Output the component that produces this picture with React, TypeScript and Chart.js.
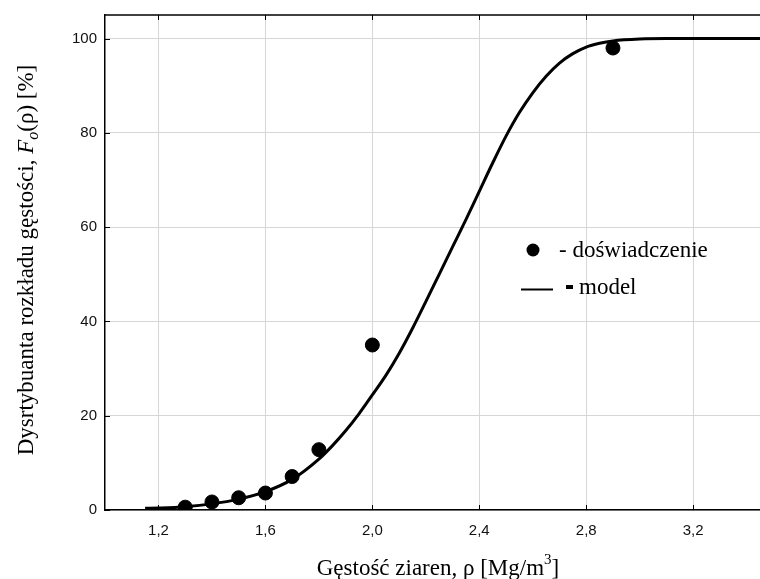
import React, { useEffect, useRef } from "react";
import { Chart, registerables } from "chart.js";

Chart.register(...registerables);

// Experimental points (density, cumulative %)
const expDensity = [1.3, 1.4, 1.5, 1.6, 1.7, 1.8, 2.0, 2.9];
const expCdf = [0.6, 1.7, 2.6, 3.6, 7.1, 12.8, 35.0, 98.0];

// Model curve
const modelDensity = [1.15, 1.2, 1.3, 1.4, 1.5, 1.6, 1.7, 1.8, 1.85, 1.9, 1.95, 2.0, 2.05, 2.1, 2.15, 2.2, 2.25, 2.3, 2.35, 2.4, 2.45, 2.5, 2.55, 2.6, 2.65, 2.7, 2.75, 2.8, 2.85, 2.9, 3.0, 3.1, 3.45];
const modelCdf = [0.35, 0.42, 0.7, 1.3, 2.3, 3.9, 6.5, 10.8, 13.6, 16.8, 20.4, 24.4, 28.5, 33.2, 38.5, 44.2, 50.0, 55.8, 61.6, 67.6, 73.6, 79.3, 84.3, 88.5, 92.0, 94.8, 96.8, 98.2, 99.0, 99.5, 99.9, 100, 100];

const xTickValues = [1.2, 1.6, 2.0, 2.4, 2.8, 3.2];
const yTickValues = [0, 20, 40, 60, 80, 100];

const legendPoints = "- doświadczenie";
const legendModel = "model";
const xTitleMain = "Gęstość ziaren, ρ [Mg/m";
const xTitleSup = "3";
const yTitleParts = ["Dysrtybuanta rozkładu gęstości, ", "F", "o", "(ρ) [%]"];

const SERIF = "'Liberation Serif', 'Times New Roman', serif";
const SANS = "'Liberation Sans', Arial, sans-serif";
const FS = 23;

const extrasPlugin = {
  id: "extras",
  afterDraw(chart: any) {
    const ctx = chart.ctx as CanvasRenderingContext2D;
    const area = chart.chartArea;
    const xs = chart.scales.x;
    const ys = chart.scales.y;
    ctx.save();
    // top border
    ctx.strokeStyle = "#000";
    ctx.lineWidth = 1.5;
    ctx.beginPath();
    ctx.moveTo(area.left, area.top);
    ctx.lineTo(area.right, area.top);
    ctx.stroke();
    // inner ticks
    ctx.lineWidth = 1;
    ctx.beginPath();
    xTickValues.forEach((v) => {
      const px = Math.round(xs.getPixelForValue(v)) + 0.5;
      ctx.moveTo(px, area.bottom);
      ctx.lineTo(px, area.bottom - 5);
      ctx.moveTo(px, area.top);
      ctx.lineTo(px, area.top + 5);
    });
    yTickValues.forEach((v) => {
      const py = Math.round(ys.getPixelForValue(v)) + 0.5;
      ctx.moveTo(area.left, py);
      ctx.lineTo(area.left + 5, py);
    });
    ctx.stroke();

    // x title
    ctx.fillStyle = "#000";
    ctx.textBaseline = "alphabetic";
    ctx.font = `${FS}px ${SERIF}`;
    const wMain = ctx.measureText(xTitleMain).width;
    ctx.font = `15px ${SERIF}`;
    const wSup = ctx.measureText(xTitleSup).width;
    ctx.font = `${FS}px ${SERIF}`;
    const wEnd = ctx.measureText("]").width;
    const total = wMain + wSup + wEnd;
    let tx = 438 - total / 2;
    const ty = 575;
    ctx.textAlign = "left";
    ctx.fillText(xTitleMain, tx, ty);
    tx += wMain;
    ctx.font = `15px ${SERIF}`;
    ctx.fillText(xTitleSup, tx, ty - 11);
    tx += wSup;
    ctx.font = `${FS}px ${SERIF}`;
    ctx.fillText("]", tx, ty);

    // y title (rotated)
    ctx.save();
    ctx.translate(33, 260);
    ctx.rotate(-Math.PI / 2);
    const fonts = [`${FS}px ${SERIF}`, `italic ${FS}px ${SERIF}`, `italic 16px ${SERIF}`, `${FS}px ${SERIF}`];
    const offs = [0, 0, 5, 0];
    const widths = yTitleParts.map((p, i) => {
      ctx.font = fonts[i];
      return ctx.measureText(p).width;
    });
    const tw = widths.reduce((a, b) => a + b, 0);
    let cx = -tw / 2;
    yTitleParts.forEach((p, i) => {
      ctx.font = fonts[i];
      ctx.fillText(p, cx, offs[i]);
      cx += widths[i];
    });
    ctx.restore();

    // legend
    ctx.fillStyle = "#000";
    ctx.beginPath();
    ctx.arc(533, 250, 6.5, 0, Math.PI * 2);
    ctx.fill();
    ctx.font = `${FS}px ${SERIF}`;
    ctx.textAlign = "left";
    ctx.fillText(legendPoints, 559, 257);
    ctx.lineWidth = 2;
    ctx.beginPath();
    ctx.moveTo(521, 289.5);
    ctx.lineTo(553, 289.5);
    ctx.stroke();
    ctx.fillRect(566, 285, 7, 4);
    ctx.fillText(legendModel, 579, 294);
    ctx.restore();
  },
};

export default function App() {
  const ref = useRef<HTMLCanvasElement | null>(null);
  useEffect(() => {
    document.body.style.margin = "0";
    const canvas = ref.current;
    if (!canvas) return;
    const chart = new Chart(canvas, {
      type: "scatter",
      data: {
        datasets: [
          {
            label: "model",
            type: "line",
            data: modelDensity.map((x, i) => ({ x, y: modelCdf[i] })),
            borderColor: "#000",
            backgroundColor: "#000",
            borderWidth: 3,
            pointRadius: 0,
            cubicInterpolationMode: "monotone",
            fill: false,
            order: 2,
          } as any,
          {
            label: "doświadczenie",
            data: expDensity.map((x, i) => ({ x, y: expCdf[i] })),
            backgroundColor: "#000",
            borderColor: "#000",
            pointRadius: 7,
            pointHoverRadius: 7,
            order: 1,
          },
        ],
      },
      options: {
        animation: false,
        responsive: false,
        maintainAspectRatio: false,
        layout: { autoPadding: false, padding: { top: 15, left: 0, right: 0, bottom: 0 } },
        plugins: {
          legend: { display: false },
          tooltip: { enabled: false },
          title: { display: false },
        },
        scales: {
          x: {
            type: "linear",
            min: 1.0,
            max: 3.45,
            afterBuildTicks: (s: any) => {
              s.ticks = xTickValues.map((v) => ({ value: v }));
            },
            afterFit: (s: any) => {
              s.height = 69;
              s.paddingLeft = 0;
              s.paddingRight = 0;
            },
            ticks: {
              callback: (v: any) => Number(v).toFixed(1).replace(".", ","),
              font: { family: SANS, size: 15 },
              color: "#111",
              padding: 12,
              maxRotation: 0,
              autoSkip: false,
            },
            grid: { color: "#d6d6d6", lineWidth: 1, drawTicks: false },
            border: { color: "#000", width: 1.5 },
          },
          y: {
            type: "linear",
            min: 0,
            max: 105,
            afterBuildTicks: (s: any) => {
              s.ticks = yTickValues.map((v) => ({ value: v }));
            },
            afterFit: (s: any) => {
              s.width = 105;
              s.paddingTop = 0;
              s.paddingBottom = 0;
            },
            ticks: {
              font: { family: SANS, size: 15 },
              color: "#111",
              padding: 8,
            },
            grid: { color: "#d6d6d6", lineWidth: 1, drawTicks: false },
            border: { color: "#000", width: 1.5 },
          },
        },
      },
      plugins: [extrasPlugin],
    });
    return () => chart.destroy();
  }, []);
  return <canvas ref={ref} width={760} height={579} style={{ display: "block", width: 760, height: 579 }} />;
}
